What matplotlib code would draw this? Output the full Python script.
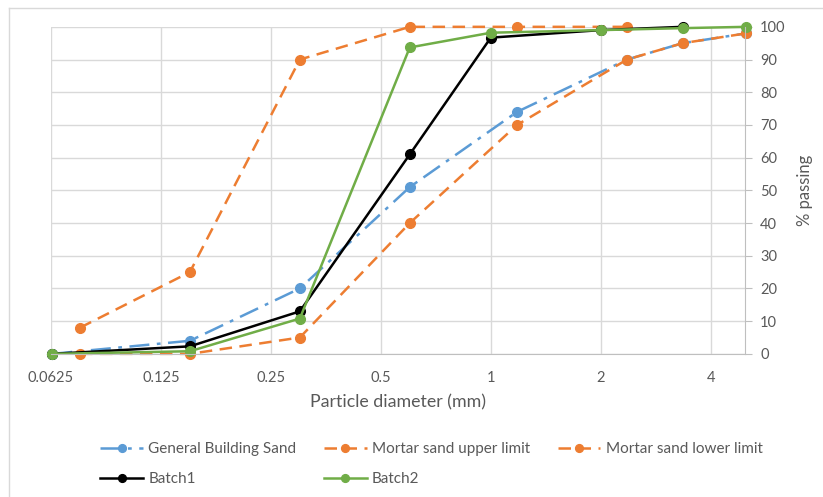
import matplotlib.pyplot as plt
from matplotlib.lines import Line2D
from matplotlib.ticker import FixedLocator, NullLocator

plt.rcParams['font.family'] = ['Lato', 'DejaVu Sans']

# sieve sizes (mm) and % passing
sand_x = [0.063, 0.15, 0.3, 0.6, 1.18, 2.36, 3.35, 5.0]
sand_y = [0, 4, 20, 51, 74, 90, 95, 98]

upper_x = [0.075, 0.15, 0.3, 0.6, 1.18, 2.36]
upper_y = [8, 25, 90, 100, 100, 100]

lower_x = [0.075, 0.15, 0.3, 0.6, 1.18, 2.36, 3.35, 5.0]
lower_y = [0, 0, 5, 40, 70, 90, 95, 98]

batch1_x = [0.063, 0.15, 0.3, 0.6, 1.0, 2.0, 3.35]
batch1_y = [0, 2.3, 13, 61, 96.7, 99, 100]

batch2_x = [0.063, 0.15, 0.3, 0.6, 1.0, 2.0, 3.35, 5.0]
batch2_y = [0, 0.8, 10.8, 93.7, 98.2, 99, 99.6, 100]

xticks = [0.0625, 0.125, 0.25, 0.5, 1, 2, 4]
xtick_labels = ["0.0625", "0.125", "0.25", "0.5", "1", "2", "4"]
yticks = list(range(0, 101, 10))

BLUE = "#5B9BD5"
ORANGE = "#ED7D31"
GREEN = "#70AD47"
GRID = "#d9d9d9"
TXT = "#595959"

fig = plt.figure(figsize=(8.23, 4.97), dpi=100)
ax = fig.add_axes([0.062, 0.288, 0.843, 0.658])

# chart border like Excel (top and left edges visible)
fig.add_artist(Line2D([8.5 / 823, 8.5 / 823], [0, 1 - 7.5 / 497],
                      transform=fig.transFigure, color=GRID, lw=1.0))
fig.add_artist(Line2D([8.5 / 823, 1], [1 - 7.5 / 497, 1 - 7.5 / 497],
                      transform=fig.transFigure, color=GRID, lw=1.0))

lw, ms = 1.8, 7
kw = dict(lw=lw, marker="o", ms=ms, clip_on=False)
h_sand, = ax.plot(sand_x, sand_y, color=BLUE, ls=(0, (8, 3, 1.5, 3)), **kw)
h_up, = ax.plot(upper_x, upper_y, color=ORANGE, ls=(0, (5, 3)), **kw)
h_low, = ax.plot(lower_x, lower_y, color=ORANGE, ls=(0, (5, 3)), **kw)
h_b1, = ax.plot(batch1_x, batch1_y, color="black", **kw)
h_b2, = ax.plot(batch2_x, batch2_y, color=GREEN, **kw)

ax.set_xscale("log", base=2)
ax.set_xlim(0.0625, 4.96)
ax.set_ylim(0, 100)
ax.xaxis.set_major_locator(FixedLocator(xticks))
ax.xaxis.set_minor_locator(NullLocator())
ax.set_xticklabels(xtick_labels)
ax.set_yticks(yticks)
ax.yaxis.tick_right()
ax.yaxis.set_label_position("right")

ax.grid(True, color=GRID, lw=1.0)
ax.set_axisbelow(True)
for s in ["top", "left"]:
    ax.spines[s].set_visible(False)
for s in ["bottom", "right"]:
    ax.spines[s].set_color("#bfbfbf")
ax.tick_params(axis="x", length=0, pad=12, labelsize=10.5, colors=TXT)
ax.tick_params(axis="y", length=5, color="#bfbfbf", pad=6, labelsize=10.5,
               labelcolor=TXT)

ax.set_xlabel("Particle diameter (mm)", fontsize=12.8, color=TXT, labelpad=7)
ax.set_ylabel("% passing", fontsize=12, color=TXT, labelpad=8)

fig.legend([h_sand, h_b1, h_up, h_b2, h_low],
           ["General Building Sand", "Batch1", "Mortar sand upper limit",
            "Batch2", "Mortar sand lower limit"],
           ncol=3, loc="upper left", bbox_to_anchor=(0.105, 0.138),
           frameon=False, fontsize=11, labelcolor=TXT, handlelength=2.8,
           columnspacing=1.8, handletextpad=0.35, labelspacing=1.05,
           markerscale=0.8)

fig.savefig("out.png", dpi=100)
